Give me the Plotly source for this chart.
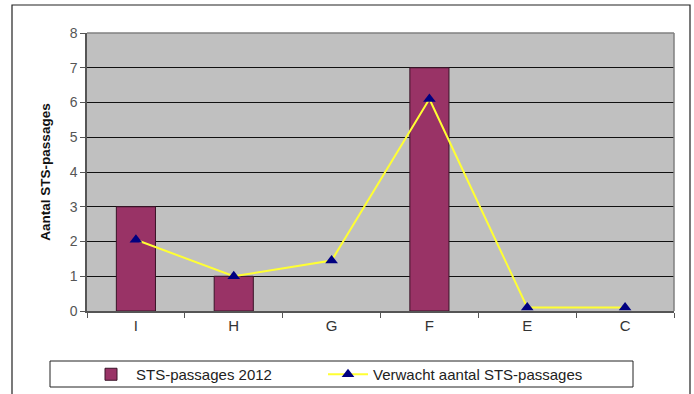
import plotly.graph_objects as go

categories = ["I", "H", "G", "F", "E", "C"]
passages_2012 = [3, 1, 0, 7, 0, 0]
verwacht = [2.05, 1.0, 1.45, 6.1, 0.1, 0.1]
y_ticks = [0, 1, 2, 3, 4, 5, 6, 7, 8]

W, H = 694, 394
L, R, T, B = 87, 20, 33, 83
pw, ph = W - L - R, H - T - B


def px_x(px):
    return (px - L) / pw


def px_y(py):
    return (H - B - py) / ph


# empty bars get no outline so nothing shows on the baseline
bar_outline = [1 if v > 0 else 0 for v in passages_2012]

fig = go.Figure()
fig.add_trace(go.Bar(
    x=categories, y=passages_2012, name="STS-passages 2012",
    width=0.4, legend="legend",
    marker=dict(color="#993366", line=dict(color="#3a1428", width=bar_outline)),
))
fig.add_trace(go.Scatter(
    x=categories, y=verwacht, name="Verwacht aantal STS-passages",
    mode="lines+markers", legend="legend2",
    line=dict(color="#FFFF33", width=2),
    marker=dict(symbol="triangle-up", size=11, color="#000080"),
))

shapes = [
    # outer chart frame
    dict(type="rect", xref="paper", yref="paper",
         x0=px_x(12), x1=px_x(690), y0=px_y(420), y1=px_y(5),
         line=dict(color="#222222", width=1.2), layer="below"),
    # legend frame
    dict(type="rect", xref="paper", yref="paper",
         x0=px_x(50), x1=px_x(633), y0=px_y(387), y1=px_y(361),
         line=dict(color="#222222", width=1), layer="below"),
    # plot-area outline on top and right edges
    dict(type="line", xref="paper", yref="paper", x0=0, x1=1, y0=1, y1=1,
         line=dict(color="#808080", width=1.5)),
    dict(type="line", xref="paper", yref="paper", x0=1, x1=1, y0=0, y1=1,
         line=dict(color="#808080", width=1.5)),
]

legend_style = dict(
    orientation="h", xref="container", yref="container",
    y=1 - 358 / H, xanchor="left", yanchor="top",
    bgcolor="rgba(0,0,0,0)", borderwidth=0,
    font=dict(size=15, color="#222222"),
    itemwidth=40,
)

fig.update_layout(
    width=W, height=H,
    margin=dict(l=L, r=R, t=T, b=B),
    paper_bgcolor="white",
    plot_bgcolor="#C0C0C0",
    font=dict(family="Liberation Sans, Arial, sans-serif", color="#333333"),
    showlegend=True,
    legend=dict(x=86 / W, **legend_style),
    legend2=dict(x=323 / W, **legend_style),
    shapes=shapes,
)

fig.update_xaxes(
    type="category",
    showgrid=False,
    showline=True, linecolor="#555555", linewidth=1.5,
    ticks="outside", tickson="boundaries", ticklen=5, tickcolor="#555555",
    tickfont=dict(size=15, color="#333333"),
    range=[-0.5, 5.5],
)
fig.update_yaxes(
    range=[0, 8],
    tickvals=y_ticks,
    showgrid=True, gridcolor="#111111", gridwidth=1.2,
    showline=True, linecolor="#555555", linewidth=1.5,
    ticks="outside", ticklen=5, tickcolor="#555555",
    tickfont=dict(size=14, color="#555555"),
    zeroline=False,
    title=dict(text="<b>Aantal STS-passages</b>", font=dict(size=13.5, color="#111111"), standoff=16),
)

fig.write_html("out.html")
